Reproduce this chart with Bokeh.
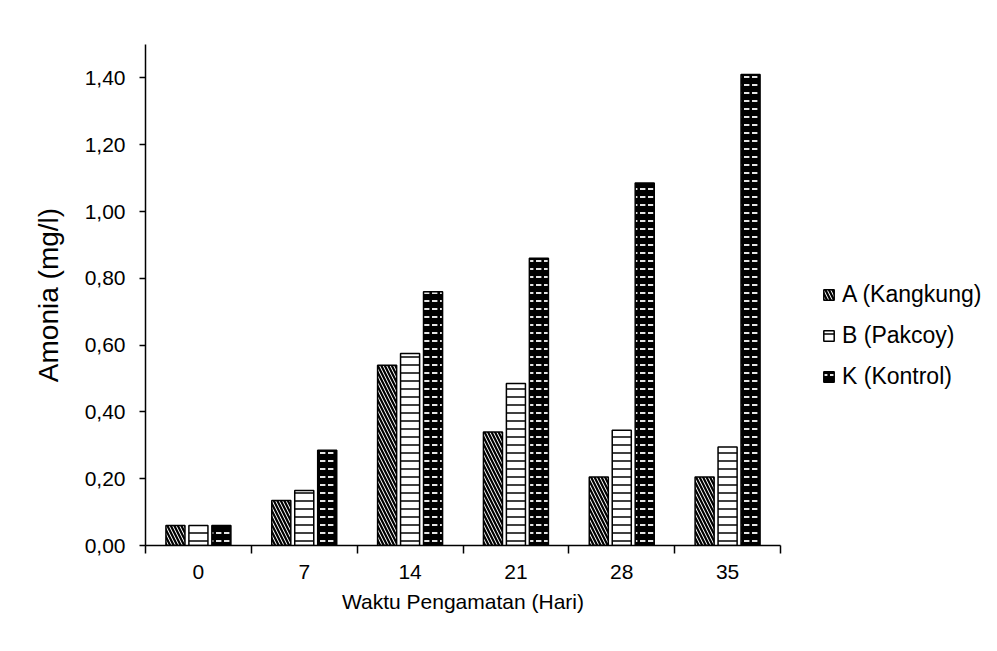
import numpy as np
from bokeh.plotting import figure
from bokeh.models import (ColumnDataSource, Range1d, FixedTicker, Legend, LegendItem,
                          CustomJSTickFormatter)
from bokeh.transform import dodge
from bokeh.embed import file_html
from bokeh.resources import INLINE

days = ["0", "7", "14", "21", "28", "35"]
kangkung = [0.06, 0.135, 0.54, 0.34, 0.205, 0.205]
pakcoy = [0.06, 0.165, 0.575, 0.485, 0.345, 0.295]
kontrol = [0.06, 0.285, 0.76, 0.86, 1.085, 1.41]
series_names = ["A (Kangkung)", "B (Pakcoy)", "K (Kontrol)"]
y_ticks = [0.0, 0.2, 0.4, 0.6, 0.8, 1.0, 1.2, 1.4]

n = len(days)
centers = list(np.arange(n) + 0.5)
src = ColumnDataSource(dict(x=centers, a=kangkung, b=pakcoy, k=kontrol))

FONT = "Liberation Sans"

p = figure(frame_width=635, frame_height=501, output_backend="svg", toolbar_location=None,
           x_range=Range1d(0, n), y_range=Range1d(0, 1.5),
           min_border_left=145, min_border_right=200, min_border_top=44,
           min_border_bottom=90)
p.outline_line_color = None
p.xgrid.grid_line_color = None
p.ygrid.grid_line_color = None

bw = 0.18
step = 0.217
ra = p.vbar(x=dodge("x", -step), top="a", width=bw, source=src,
            fill_color="white", line_color="black", line_width=1.5,
            hatch_pattern="left_diagonal_line", hatch_color="black",
            hatch_scale=7, hatch_weight=2.2)
rb = p.vbar(x=dodge("x", 0), top="b", width=bw, source=src,
            fill_color="white", line_color="black", line_width=1.5,
            hatch_pattern="horizontal_line", hatch_color="black",
            hatch_scale=8, hatch_weight=1.5)
rk = p.vbar(x=dodge("x", step), top="k", width=bw, source=src,
            fill_color="black", line_color="black", line_width=1.5,
            hatch_pattern="horizontal_dash", hatch_color="white",
            hatch_scale=8, hatch_weight=1.8)

# x axis
xa = p.xaxis[0]
xa.ticker = FixedTicker(ticks=centers, minor_ticks=list(range(n + 1)))
xa.major_label_overrides = {float(c): d for c, d in zip(centers, days)}
xa.major_tick_out = 0
xa.major_tick_in = 0
xa.minor_tick_out = 8
xa.minor_tick_in = 0
xa.minor_tick_line_color = "black"
xa.minor_tick_line_width = 1.5
xa.axis_line_color = "black"
xa.axis_line_width = 1.5
xa.major_label_text_font = FONT
xa.major_label_text_font_size = "21px"
xa.major_label_text_color = "black"
xa.major_label_standoff = 11
xa.axis_label = "Waktu Pengamatan (Hari)"
xa.axis_label_text_font = FONT
xa.axis_label_text_font_size = "21px"
xa.axis_label_text_font_style = "normal"
xa.axis_label_text_color = "black"
xa.axis_label_standoff = 8

# y axis
ya = p.yaxis[0]
ya.ticker = FixedTicker(ticks=y_ticks, minor_ticks=[])
ya.formatter = CustomJSTickFormatter(code="return tick.toFixed(2).replace('.', ',');")
ya.major_tick_out = 6
ya.major_tick_in = 0
ya.major_tick_line_width = 1.5
ya.axis_line_width = 1.5
ya.major_label_text_font = FONT
ya.major_label_text_font_size = "21px"
ya.major_label_text_color = "black"
ya.major_label_standoff = 14
ya.axis_label = "Amonia (mg/l)"
ya.axis_label_text_font = FONT
ya.axis_label_text_font_size = "28px"
ya.axis_label_text_font_style = "normal"
ya.axis_label_text_color = "black"
ya.axis_label_standoff = 18

legend = Legend(items=[LegendItem(label=series_names[0], renderers=[ra]),
                       LegendItem(label=series_names[1], renderers=[rb]),
                       LegendItem(label=series_names[2], renderers=[rk])],
                location=(42, 155), orientation="vertical",
                glyph_width=13, glyph_height=13, label_standoff=7,
                label_text_font=FONT, label_text_font_size="23px",
                label_text_color="black", spacing=14, padding=0, margin=0,
                border_line_color=None, background_fill_alpha=0)
p.add_layout(legend, "right")

open("out.html", "w").write(file_html(p, INLINE))
